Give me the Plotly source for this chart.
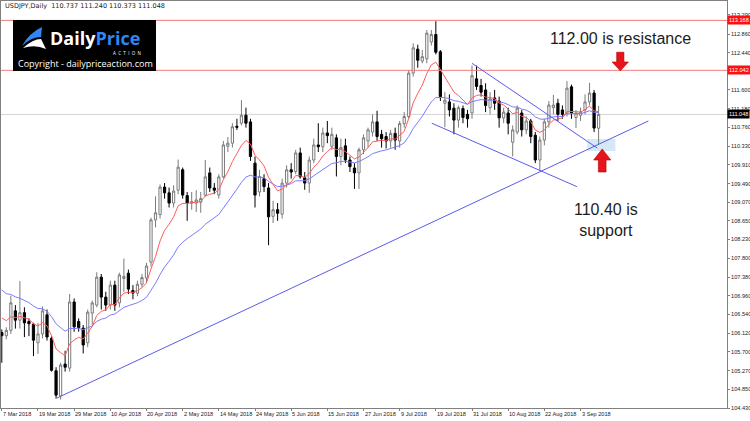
import plotly.graph_objects as go
import pandas as pd

# ---------------- data ----------------
DATES = [d.strftime("%Y-%m-%d") for d in pd.bdate_range("2018-03-07", "2018-09-07")]

OPEN = [106.13,106.06,106.18,106.62,106.41,106.58,106.38,106.32,105.90,106.10,
        106.53,106.00,105.27,104.70,105.42,105.33,106.82,106.38,106.23,105.90,
        106.57,106.75,107.38,106.93,106.75,107.20,106.80,107.35,107.47,107.08,
        107.02,107.22,107.36,107.72,108.67,108.79,109.41,109.28,109.05,109.34,
        109.80,109.22,109.05,109.05,109.07,109.23,109.73,109.39,109.23,109.64,
        110.33,110.40,110.78,110.85,111.03,110.88,109.95,109.30,109.60,109.39,
        108.75,108.90,108.80,109.50,109.80,109.76,110.18,109.62,109.50,110.02,
        110.36,110.32,110.63,110.33,110.52,110.10,110.34,110.02,109.84,109.73,
        110.25,110.45,110.65,110.88,110.60,110.55,110.45,110.62,110.45,110.84,
        111.00,111.98,112.52,112.25,112.30,112.68,112.85,112.46,111.30,111.33,
        111.19,110.92,111.18,111.05,111.08,111.85,111.70,111.60,111.20,111.42,
        111.35,110.97,111.08,110.42,110.65,111.08,110.70,110.90,110.58,110.02,
        110.47,110.88,111.20,111.30,111.15,111.08,111.67,110.98,111.03,111.15,
        111.33,111.53,110.737]
HIGH = [106.20,106.25,106.96,106.75,107.29,106.70,106.45,106.35,106.35,106.72,
        106.65,106.05,105.35,105.45,105.72,107.00,106.90,106.45,106.30,106.65,
        106.85,107.49,107.45,107.05,107.30,107.30,107.48,107.80,107.55,107.20,
        107.30,107.45,107.70,108.72,109.20,109.47,109.50,109.40,109.45,110.03,
        109.85,109.30,109.30,109.34,109.30,110.02,109.85,109.50,109.70,110.45,
        110.54,110.85,110.95,111.37,111.20,110.95,110.10,109.80,109.70,109.50,
        109.10,109.05,109.60,109.90,109.95,110.25,110.30,109.75,110.10,110.50,
        110.85,110.75,110.90,110.75,110.60,110.50,110.50,110.10,109.95,110.30,
        110.60,110.75,111.05,111.13,110.70,110.65,110.70,110.75,110.90,111.10,
        112.05,112.65,112.62,112.50,112.95,112.95,113.15,112.50,111.55,111.50,
        111.30,111.25,111.25,111.15,112.15,112.15,111.85,111.75,111.55,111.60,
        111.45,111.20,111.20,110.80,111.25,111.15,111.00,110.95,110.65,110.55,
        110.95,111.35,111.49,111.40,111.25,111.80,111.72,111.15,111.20,111.50,
        111.76,111.60,111.240]
LOW = [105.45,105.98,106.10,106.22,106.22,106.03,106.05,105.60,105.65,106.00,
       105.95,105.25,104.64,104.62,105.25,105.25,106.15,106.15,105.66,105.80,
       106.30,106.70,106.65,106.62,106.65,106.62,106.70,107.05,107.00,106.88,
       106.95,107.15,107.25,107.62,108.50,108.70,109.15,108.95,108.95,109.25,
       109.15,108.65,108.90,108.85,108.83,109.20,109.30,109.25,109.15,109.60,
       110.20,110.30,110.70,110.80,110.75,110.00,108.95,109.20,109.30,108.10,
       108.60,108.65,108.70,109.40,109.60,109.70,109.60,109.35,109.28,109.95,
       110.20,110.20,110.40,110.25,109.65,109.90,109.95,109.75,109.37,109.37,
       110.15,110.30,110.55,110.45,110.30,110.28,110.30,110.25,110.30,110.75,
       110.95,111.90,112.10,112.20,112.20,112.60,112.40,111.35,110.76,111.00,
       110.60,110.75,110.85,110.75,110.95,111.60,111.45,111.10,111.05,111.15,
       110.75,110.85,110.60,110.10,110.60,110.55,110.60,110.40,109.95,109.78,
       110.35,110.75,111.05,110.90,110.95,111.00,110.95,110.74,110.90,111.05,
       111.25,110.65,110.373]
CLOSE = [106.06,106.18,106.80,106.41,106.58,106.35,106.33,105.96,106.10,106.62,
         106.03,105.28,104.72,105.40,105.35,106.82,106.26,106.24,105.85,106.59,
         106.80,107.38,106.93,106.75,107.20,106.75,107.43,107.40,107.11,107.02,
         107.22,107.37,107.63,108.67,108.83,109.41,109.28,109.05,109.32,109.86,
         109.23,109.05,109.08,109.12,109.15,109.64,109.39,109.34,109.64,110.36,
         110.40,110.77,110.76,111.03,110.85,110.10,109.23,109.65,109.42,108.74,
         108.90,108.82,109.50,109.80,109.75,110.18,109.64,109.50,110.02,110.36,
         110.32,110.63,110.57,110.60,110.10,110.30,110.02,109.87,109.73,110.25,
         110.52,110.70,110.88,110.55,110.50,110.45,110.62,110.47,110.84,111.00,
         111.98,112.55,112.27,112.35,112.88,112.85,112.45,111.45,111.37,111.15,
         110.92,111.20,110.98,110.95,111.92,111.68,111.55,111.25,111.40,111.30,
         110.97,111.10,110.85,110.70,111.19,110.70,110.90,110.55,110.02,110.47,
         110.88,111.26,111.26,111.05,111.05,111.64,111.08,111.08,111.10,111.33,
         111.53,110.74,111.048]

# moving averages: EMA 8 (red) and EMA 21 (blue), starting values read at the first bar
EMA_FAST_PERIOD, EMA_FAST_START = 8, 106.46
EMA_SLOW_PERIOD, EMA_SLOW_START = 21, 107.09

X_TICK_LABELS = ["7 Mar 2018", "19 Mar 2018", "29 Mar 2018", "10 Apr 2018", "20 Apr 2018",
                 "2 May 2018", "14 May 2018", "24 May 2018", "5 Jun 2018", "15 Jun 2018",
                 "27 Jun 2018", "9 Jul 2018", "19 Jul 2018", "31 Jul 2018", "10 Aug 2018",
                 "22 Aug 2018", "3 Sep 2018"]
X_TICK_DATES = ["2018-03-07", "2018-03-19", "2018-03-29", "2018-04-10", "2018-04-20",
                "2018-05-02", "2018-05-14", "2018-05-24", "2018-06-05", "2018-06-15",
                "2018-06-27", "2018-07-09", "2018-07-19", "2018-07-31", "2018-08-10",
                "2018-08-22", "2018-09-03"]
Y_TICKS = [113.290, 112.860, 112.440, 111.600, 111.180, 110.760, 110.330, 109.910,
           109.490, 109.070, 108.650, 108.230, 107.800, 107.380, 106.960, 106.540,
           106.120, 105.700, 105.270, 104.850, 104.430]

RESISTANCE_TOP = 113.168
RESISTANCE = 112.042
LAST_PRICE = 111.048

# trend lines (bar index, price)
SUPPORT_LINE = [(12.2, 104.655), (143.0, 110.90)]
CHANNEL_UPPER = [(104.0, 112.20), (131.7, 110.29)]
CHANNEL_LOWER = [(95.1, 110.85), (127.2, 109.42)]
SUPPORT_ZONE = (129.5, 135.7, 110.224, 110.494)

# ---------------- figure ----------------
W, H = 750, 421
ML, MR, MT, MB = 1, 23, 1, 13
PW, PH = W - ML - MR, H - MT - MB
AXFONT = dict(family="Liberation Sans", size=5.6, color="#222222")


def ema(vals, start, n):
    a = 2.0 / (n + 1)
    out = [start]
    for v in vals[1:]:
        out.append(out[-1] + a * (v - out[-1]))
    return out


def px(xp):
    return (xp - ML) / PW


def py(yp):
    return 1 - (yp - MT) / PH


xi = list(range(len(DATES)))
tickpos = [DATES.index(d) for d in X_TICK_DATES]

fig = go.Figure()
fig.add_trace(go.Scatter(x=xi, y=ema(CLOSE, EMA_SLOW_START, EMA_SLOW_PERIOD), mode="lines",
                         line=dict(color="#7b7bff", width=1), hoverinfo="skip"))
fig.add_trace(go.Scatter(x=xi, y=ema(CLOSE, EMA_FAST_START, EMA_FAST_PERIOD), mode="lines",
                         line=dict(color="#ff5c5c", width=1), hoverinfo="skip"))
fig.add_trace(go.Candlestick(
    x=xi, open=OPEN, high=HIGH, low=LOW, close=CLOSE, whiskerwidth=0,
    increasing=dict(line=dict(color="#7a7a7a", width=1), fillcolor="#ffffff"),
    decreasing=dict(line=dict(color="#000000", width=1), fillcolor="#000000"),
))

shapes = []
x0, x1, y0, y1 = SUPPORT_ZONE
shapes.append(dict(type="rect", xref="x", yref="y", x0=x0, x1=x1, y0=y0, y1=y1,
                   fillcolor="#d5e8f6", line=dict(width=0), layer="below"))
for lvl, col in [(RESISTANCE_TOP, "#f27c7c"), (RESISTANCE, "#f27c7c"), (LAST_PRICE, "#d4d4d4")]:
    shapes.append(dict(type="line", xref="paper", yref="y", x0=0, x1=1, y0=lvl, y1=lvl,
                       line=dict(color=col, width=1), layer="below" if col == "#d4d4d4" else "above"))
for (ax, ay), (bx, by) in [SUPPORT_LINE, CHANNEL_UPPER, CHANNEL_LOWER]:
    shapes.append(dict(type="line", xref="x", yref="y", x0=ax, y0=ay, x1=bx, y1=by,
                       line=dict(color="#5a5aee", width=1), layer="above"))


def arrow_path(cx, tip, base, tail, hw, sw):
    return (f"M {cx},{tip} L {cx+hw},{base} L {cx+sw},{base} L {cx+sw},{tail} "
            f"L {cx-sw},{tail} L {cx-sw},{base} L {cx-hw},{base} Z")


shapes.append(dict(type="path", xref="x", yref="y",
                   path=arrow_path(136.8, 112.03, 112.23, 112.45, 1.8, 0.8),
                   fillcolor="#e8141b", line=dict(color="#b00000", width=0.6), layer="above"))
shapes.append(dict(type="path", xref="x", yref="y",
                   path=arrow_path(132.8, 110.27, 110.02, 109.75, 1.9, 0.85),
                   fillcolor="#e8141b", line=dict(color="#b00000", width=0.6), layer="above"))

# logo
shapes.append(dict(type="rect", xref="paper", yref="paper", x0=px(13), x1=px(156),
                   y0=py(71), y1=py(20), fillcolor="#000000", line=dict(width=0), layer="above"))
swoosh_blue = (f"M {px(22)},{py(46)} Q {px(29)},{py(33)} {px(42)},{py(27)} "
               f"L {px(41)},{py(37)} Q {px(31)},{py(37)} {px(22)},{py(46)} Z")
swoosh_white = (f"M {px(23)},{py(48)} Q {px(33)},{py(39)} {px(41)},{py(39)} "
                f"L {px(46)},{py(49)} Q {px(35)},{py(44)} {px(23)},{py(48)} Z")
shapes.append(dict(type="path", xref="paper", yref="paper", path=swoosh_blue,
                   fillcolor="#2f86f6", line=dict(width=0), layer="above"))
shapes.append(dict(type="path", xref="paper", yref="paper", path=swoosh_white,
                   fillcolor="#ffffff", line=dict(width=0), layer="above"))

ann = []
ann.append(dict(xref="paper", yref="paper", x=px(48), y=py(38), xanchor="left", yanchor="middle",
                text="<b>Daily</b><b style='color:#2f86f6'>Price</b>", showarrow=False,
                font=dict(family="Open Sans", size=18, color="#ffffff")))
ann.append(dict(xref="paper", yref="paper", x=px(143), y=py(53), xanchor="right", yanchor="middle",
                text="A  C  T  I  O  N", showarrow=False,
                font=dict(family="Open Sans", size=4.5, color="#ffffff")))
ann.append(dict(xref="paper", yref="paper", x=px(85), y=py(63), xanchor="center", yanchor="middle",
                text="Copyright - dailypriceaction.com", showarrow=False,
                font=dict(family="Open Sans", size=9, color="#ffffff")))
ann.append(dict(xref="paper", yref="paper", x=px(3), y=py(6), xanchor="left", yanchor="middle",
                text="USDJPY,Daily  110.737 111.240 110.373 111.048", showarrow=False,
                font=dict(family="DejaVu Sans", size=6.5, color="#222222")))
ann.append(dict(xref="x", yref="y", x=136.8, y=112.77, xanchor="center", yanchor="middle",
                text="112.00 is resistance", showarrow=False,
                font=dict(family="Liberation Sans", size=16, color="#1c1c1c")))
ann.append(dict(xref="x", yref="y", x=133.7, y=108.67, xanchor="center", yanchor="middle",
                text="110.40 is<br>support", showarrow=False,
                font=dict(family="Liberation Sans", size=16, color="#1c1c1c")))
for lvl, bg in [(RESISTANCE_TOP, "#ff1010"), (RESISTANCE, "#ff1010"), (LAST_PRICE, "#000000")]:
    ann.append(dict(xref="paper", yref="y", x=1, y=lvl, xanchor="left", yanchor="middle",
                    xshift=0, text=f"{lvl:.3f}", showarrow=False, bgcolor=bg, borderpad=1,
                    font=dict(family="Liberation Sans", size=5.6, color="#ffffff")))
# date labels along the time axis (left edge of each label at its bar, as in the terminal)
for pos, lab in zip(tickpos, X_TICK_LABELS):
    ann.append(dict(xref="x", yref="paper", x=pos, y=py(413.5), xanchor="left", yanchor="middle",
                    xshift=-1, text=lab, showarrow=False, font=AXFONT))

fig.update_layout(
    width=W, height=H, margin=dict(l=ML, r=MR, t=MT, b=MB),
    paper_bgcolor="#ffffff", plot_bgcolor="#ffffff", showlegend=False,
    shapes=shapes, annotations=ann, hovermode=False,
    xaxis=dict(range=[-0.18, 160.4], rangeslider=dict(visible=False), showgrid=False,
               zeroline=False, tickmode="array", tickvals=tickpos, showticklabels=False,
               ticks="outside", ticklen=2, tickcolor="#808080",
               showline=True, linecolor="#808080", linewidth=1, mirror=True, automargin=False),
    yaxis=dict(range=[104.43, 104.43 + PH / 44.36], side="right", showgrid=False, zeroline=False,
               tickmode="array", tickvals=Y_TICKS, ticktext=[f"{v:.3f}" for v in Y_TICKS],
               ticks="outside", ticklen=2, tickcolor="#808080", tickfont=AXFONT,
               ticklabelstandoff=0,
               showline=True, linecolor="#808080", linewidth=1, mirror=True, automargin=False),
)

fig.write_html("out.html")
